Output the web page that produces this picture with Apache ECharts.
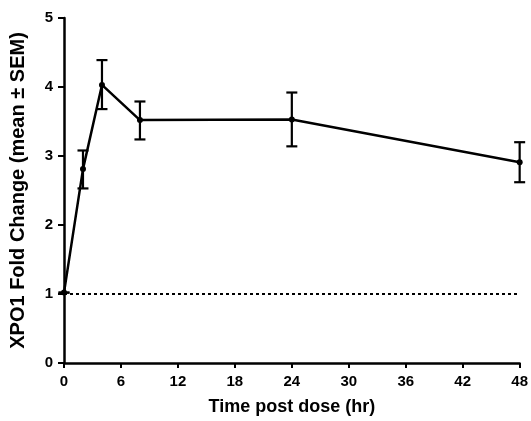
<!DOCTYPE html>
<html>
<head>
<meta charset="utf-8">
<script src="https://cdn.jsdelivr.net/npm/echarts@6/dist/echarts.min.js"></script>
<style>
html,body{margin:0;padding:0;background:#fff;}
#chart{width:531px;height:421px;}
</style>
</head>
<body>
<div id="chart"></div>
<script>
// Data
const times = [0, 2, 4, 8, 24, 48];
const means = [1.02, 2.81, 4.03, 3.52, 3.53, 2.91];
const upper = [1.02, 3.08, 4.39, 3.79, 3.92, 3.20];
const lower = [1.02, 2.53, 3.68, 3.24, 3.14, 2.62];
const baselineX = [0, 48];
const baselineY = [1, 1];
const xTicks = [0, 6, 12, 18, 24, 30, 36, 42, 48];
const yTicks = [0, 1, 2, 3, 4, 5];

const FONT = '"Liberation Sans", Arial, sans-serif';
const chart = echarts.init(document.getElementById('chart'), null, {renderer: 'canvas'});

const meanData = times.map((t, i) => [t, means[i]]);
const errData = times.map((t, i) => [t, lower[i], upper[i]]);
const baseData = baselineX.map((x, i) => [x, baselineY[i]]);

chart.setOption({
  animation: false,
  backgroundColor: '#fff',
  grid: {left: 62, right: 9, top: 18, bottom: 58, containLabel: false},
  xAxis: {
    type: 'value', min: xTicks[0], max: xTicks[xTicks.length - 1], interval: 6,
    name: 'Time post dose (hr)', nameLocation: 'middle', nameGap: 35,
    nameTextStyle: {fontFamily: FONT, fontWeight: 'bold', fontSize: 18, color: '#000'},
    axisLine: {lineStyle: {color: '#000', width: 2.5}},
    axisTick: {show: true, length: 5, lineStyle: {color: '#000', width: 2}},
    axisLabel: {fontFamily: FONT, fontWeight: 'bold', fontSize: 15, color: '#000', margin: 11},
    splitLine: {show: false}
  },
  yAxis: {
    type: 'value', min: yTicks[0], max: yTicks[yTicks.length - 1], interval: 1,
    name: 'XPO1 Fold Change (mean \u00b1 SEM)', nameLocation: 'middle', nameGap: 36,
    nameTextStyle: {fontFamily: FONT, fontWeight: 'bold', fontSize: 20, color: '#000'},
    axisLine: {show: true, lineStyle: {color: '#000', width: 2.5}},
    axisTick: {show: true, length: 6, lineStyle: {color: '#000', width: 2}},
    axisLabel: {fontFamily: FONT, fontWeight: 'bold', fontSize: 15, color: '#000', margin: 11},
    splitLine: {show: false}
  },
  series: [
    {
      type: 'line', data: baseData, symbol: 'none', silent: true,
      lineStyle: {color: '#000', width: 2, type: [3, 3]}, z: 1
    },
    {
      type: 'custom', data: errData, z: 3,
      renderItem: function (params, api) {
        const x = api.value(0);
        const lo = api.coord([x, api.value(1)]);
        const hi = api.coord([x, api.value(2)]);
        const hw = 5.5;
        const style = {stroke: '#000', lineWidth: 2.2, fill: null};
        return {
          type: 'group',
          children: [
            {type: 'line', shape: {x1: lo[0], y1: lo[1], x2: hi[0], y2: hi[1]}, style: style},
            {type: 'line', shape: {x1: hi[0] - hw, y1: hi[1], x2: hi[0] + hw, y2: hi[1]}, style: style},
            {type: 'line', shape: {x1: lo[0] - hw, y1: lo[1], x2: lo[0] + hw, y2: lo[1]}, style: style}
          ]
        };
      },
      encode: {x: 0, y: [1, 2]}
    },
    {
      type: 'line', data: meanData, symbol: 'circle', symbolSize: 6,
      itemStyle: {color: '#000'}, lineStyle: {color: '#000', width: 2.5}, z: 4
    }
  ]
});
</script>
</body>
</html>
